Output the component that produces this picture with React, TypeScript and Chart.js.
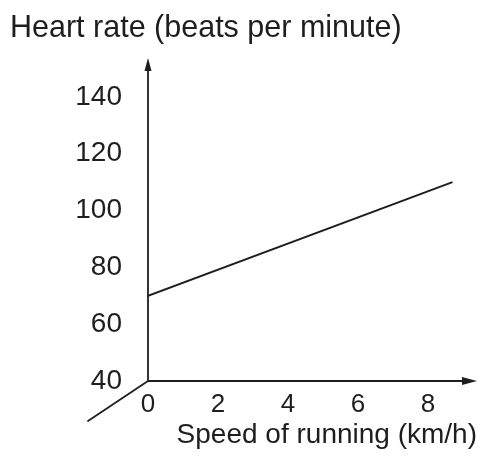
import React, { useEffect, useRef } from 'react';
import { Chart, registerables } from 'chart.js';

Chart.register(...registerables);

// ---- data ----
const speedKmh = [0, 8.7];
const heartRateBpm = [70, 110];
const xTickValues = [0, 2, 4, 6, 8];
const yTickValues = [40, 60, 80, 100, 120, 140];
const yAxisTitle = 'Heart rate (beats per minute)';
const xAxisTitle = 'Speed of running (km/h)';

const INK = '#1e1e1e';
const FONT = "'Liberation Sans', Arial, Helvetica, sans-serif";

const handAxesPlugin = {
  id: 'handAxes',
  afterDatasetsDraw(chart: any) {
    const { ctx, chartArea } = chart;
    const { left, right, top, bottom } = chartArea;
    ctx.save();
    ctx.strokeStyle = INK;
    ctx.fillStyle = INK;
    ctx.lineWidth = 1.8;
    ctx.lineCap = 'round';
    ctx.beginPath();
    // vertical axis
    ctx.moveTo(left, bottom);
    ctx.lineTo(left, top + 8);
    // horizontal axis
    ctx.moveTo(left, bottom);
    ctx.lineTo(right - 10, bottom);
    // oblique third axis
    ctx.moveTo(left, bottom);
    ctx.lineTo(left - 60, bottom + 40);
    ctx.stroke();
    // arrow heads
    ctx.beginPath();
    ctx.moveTo(left, top);
    ctx.lineTo(left - 3.5, top + 13);
    ctx.lineTo(left + 3.5, top + 13);
    ctx.closePath();
    ctx.fill();
    ctx.beginPath();
    ctx.moveTo(right, bottom);
    ctx.lineTo(right - 15, bottom - 4);
    ctx.lineTo(right - 15, bottom + 4);
    ctx.closePath();
    ctx.fill();
    ctx.restore();
  },
};

export default function App() {
  const canvasRef = useRef<HTMLCanvasElement | null>(null);

  useEffect(() => {
    const canvas = canvasRef.current;
    if (!canvas) return;
    const chart = new Chart(canvas, {
      type: 'line',
      data: {
        datasets: [
          {
            data: speedKmh.map((x, i) => ({ x, y: heartRateBpm[i] })),
            borderColor: INK,
            borderWidth: 2,
            pointRadius: 0,
            tension: 0,
          },
        ],
      },
      options: {
        animation: false,
        responsive: false,
        devicePixelRatio: 1,
        layout: { padding: { left: 10, right: 1, top: 0, bottom: 0 } },
        plugins: {
          legend: { display: false },
          tooltip: { enabled: false },
          title: {
            display: true,
            text: yAxisTitle,
            align: 'start',
            color: INK,
            font: { family: FONT, size: 30.5, weight: 'normal' },
            padding: { top: 10, bottom: 11.4 },
          },
        },
        scales: {
          x: {
            type: 'linear',
            min: 0,
            max: 9.4,
            grid: { display: false, drawTicks: false },
            border: { display: false },
            afterBuildTicks: (s: any) => {
              s.ticks = xTickValues.map((v) => ({ value: v }));
            },
            afterFit: (s: any) => {
              s.height = 74;
            },
            ticks: {
              color: INK,
              font: { family: FONT, size: 26 },
              padding: 8,
              maxRotation: 0,
              autoSkip: false,
            },
            title: {
              display: true,
              text: xAxisTitle,
              align: 'end',
              color: INK,
              font: { family: FONT, size: 28 },
              padding: { top: 0, bottom: 3 },
            },
          },
          y: {
            type: 'linear',
            min: 40,
            max: 153.7,
            grid: { display: false, drawTicks: false },
            border: { display: false },
            afterBuildTicks: (s: any) => {
              s.ticks = yTickValues.map((v) => ({ value: v }));
            },
            afterFit: (s: any) => {
              s.width = 138;
            },
            ticks: {
              color: INK,
              font: { family: FONT, size: 28 },
              padding: 26,
              autoSkip: false,
            },
          },
        },
      },
      plugins: [handAxesPlugin],
    });
    return () => chart.destroy();
  }, []);

  return (
    <div style={{ position: 'fixed', left: 0, top: 0, width: 478, height: 455, background: '#fff' }}>
      <canvas ref={canvasRef} width={478} height={455} />
    </div>
  );
}
